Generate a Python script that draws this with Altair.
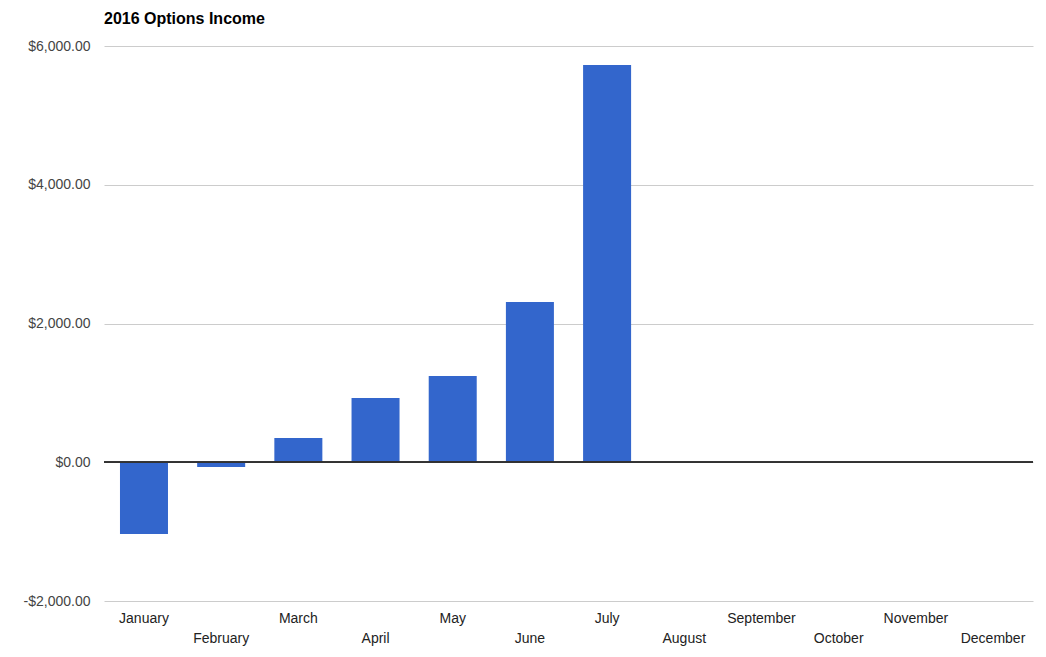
import altair as alt
import pandas as pd

months = ["January", "February", "March", "April", "May", "June", "July",
          "August", "September", "October", "November", "December"]
income = [-1034, -68, 350, 927, 1244, 2311, 5727, None, None, None, None, None]
y_ticks = [-2000, 0, 2000, 4000, 6000]

df = pd.DataFrame({"month": months, "income": income})

FONT = "Liberation Sans"

bars = alt.Chart(df).mark_bar(color="#3366CC").encode(
    x=alt.X("month:N", sort=months,
            scale=alt.Scale(domain=months, paddingInner=0.378, paddingOuter=0.207),
            axis=alt.Axis(title=None, domain=False, ticks=False, grid=False,
                          labelAngle=0, labelFontSize=14, labelColor="#222222",
                          labelFont=FONT, labelPadding=10, labelOverlap=False,
                          labelLineHeight=20, labelBaseline="top",
                          labelExpr="indexof(" + str(months) + ", datum.value) % 2 == 1 ? ['', datum.label] : datum.label")),
    y=alt.Y("income:Q",
            scale=alt.Scale(domain=[-2000, 6000], nice=False),
            axis=alt.Axis(title=None, domain=False, ticks=False, values=y_ticks,
                          gridColor="#cccccc", labelFontSize=14, labelColor="#444444",
                          labelFont=FONT, labelPadding=14,
                          labelExpr="(datum.value < 0 ? '-' : '') + '$' + format(abs(datum.value), ',.2f')")),
)

zero = alt.Chart(df).mark_rule(color="#333333", strokeWidth=1.2).encode(y=alt.datum(0))

chart = alt.layer(bars, zero).properties(
    width=929, height=555,
    autosize=alt.AutoSizeParams(type="none"),
    padding={"left": 96, "top": 38, "right": 5, "bottom": 45},
    title=alt.TitleParams("2016 Options Income", anchor="start", frame="group",
                          font=FONT, fontSize=16, fontWeight="bold", color="#000000",
                          offset=12),
).configure_view(stroke=None)

chart.save("out.html", embed_options={"renderer": "svg", "actions": False})
